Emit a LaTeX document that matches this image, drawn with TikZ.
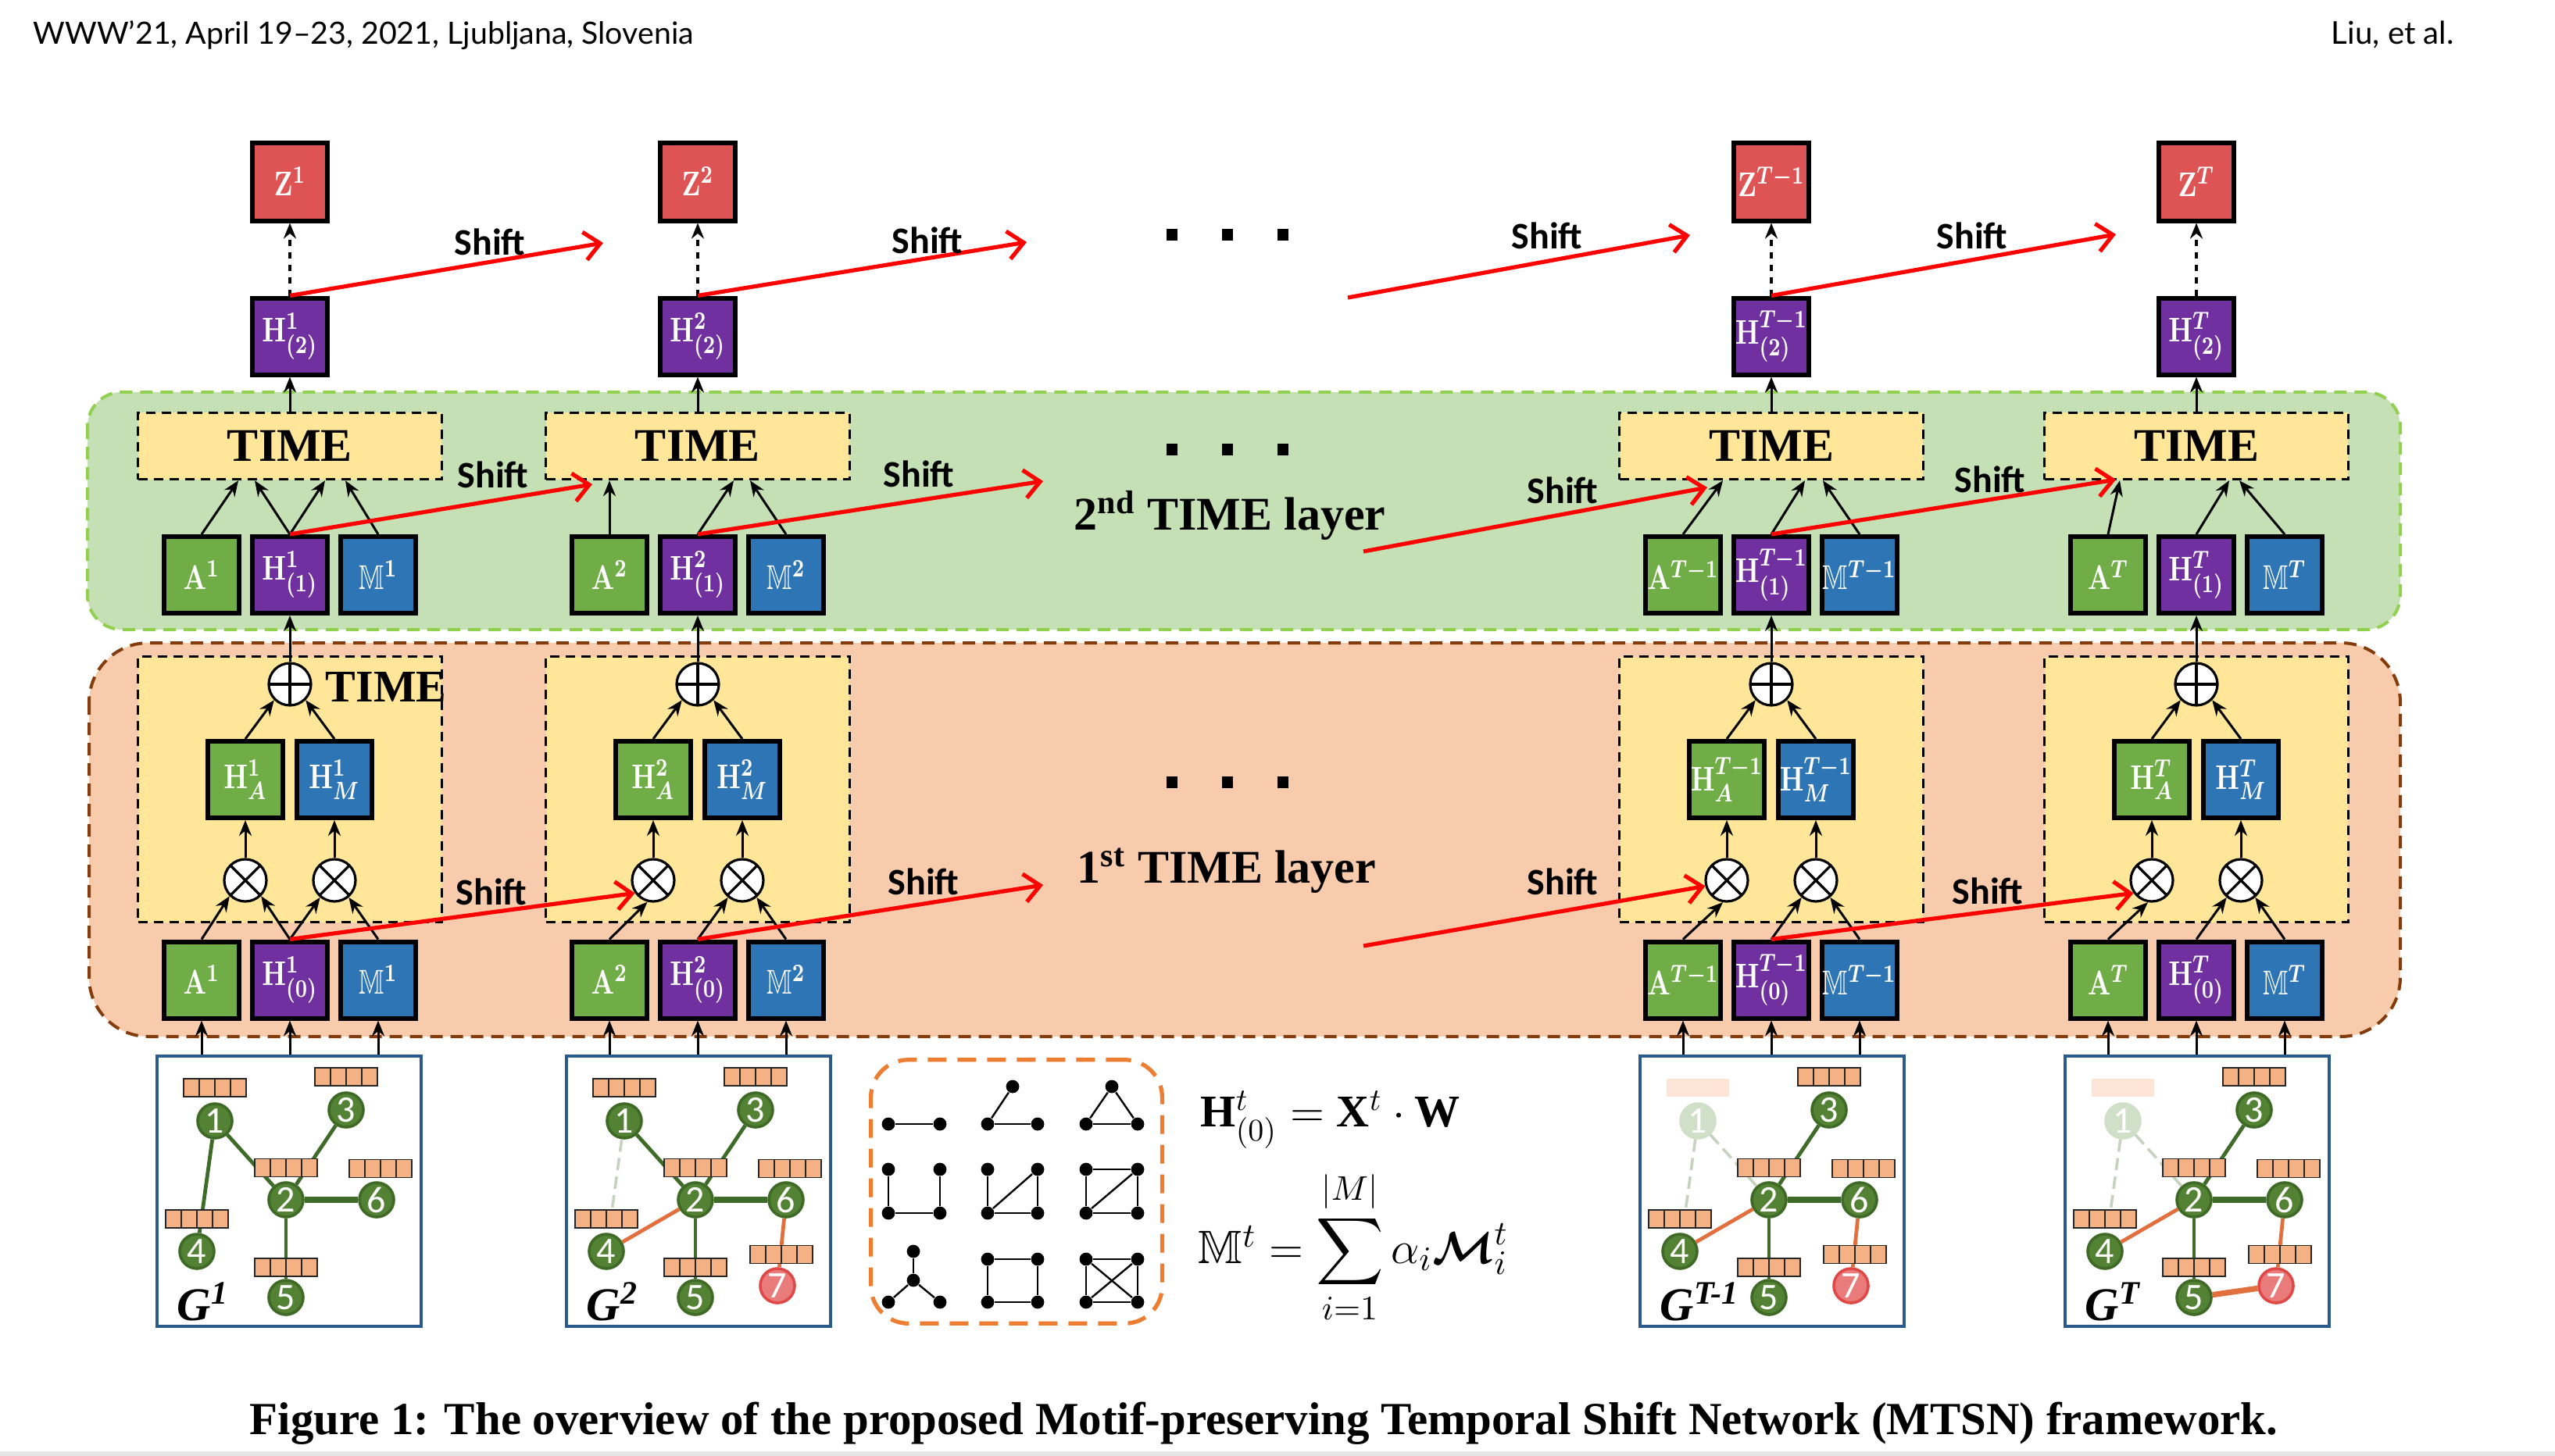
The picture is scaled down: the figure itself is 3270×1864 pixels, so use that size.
\documentclass[tikz,border=0pt]{standalone}
\usepackage{fontspec}
\usepackage{amsmath,amssymb,bm}
\setmainfont{Liberation Serif}
\newfontfamily\shiftfont{Carlito}
\newfontfamily\headfont{Lato}
\usetikzlibrary{arrows.meta,calc}

\definecolor{zred}{HTML}{DE5353}
\definecolor{hpurp}{HTML}{7030A0}
\definecolor{agreen}{HTML}{70AD47}
\definecolor{mblue}{HTML}{2E75B6}
\definecolor{tyellow}{HTML}{FFE699}
\definecolor{greg}{HTML}{C5E0B4}
\definecolor{gregb}{HTML}{92D050}
\definecolor{oreg}{HTML}{F8CBAD}
\definecolor{oregb}{HTML}{843C0C}
\definecolor{motifb}{HTML}{ED7D31}
\definecolor{gboxb}{HTML}{2B5A8C}
\definecolor{gnodef}{HTML}{548235}
\definecolor{gnoded}{HTML}{3E6A26}
\definecolor{gedge}{HTML}{3F6B28}
\definecolor{oedge}{HTML}{E2703F}
\definecolor{barf}{HTML}{F4B183}
\definecolor{redn}{HTML}{E97B7B}
\definecolor{rednb}{HTML}{E04848}
\definecolor{fadenode}{HTML}{D0DFC8}
\definecolor{fadebar}{HTML}{FCE4D6}
\definecolor{fadeedge}{HTML}{C8D2C0}

\newcommand\bl[1]{\scalebox{0.78}[1]{#1}}

\tikzset{
  blk/.style={draw=black, line width=1.5pt, minimum width=24pt, minimum height=24.5pt,
    inner sep=0pt, text=white, font=\fontsize{11}{12}\selectfont\boldmath},
  zbox/.style={blk, fill=zred, minimum height=25pt},
  hbox/.style={blk, fill=hpurp},
  abox/.style={blk, fill=agreen},
  mbox/.style={blk, fill=mblue},
  timebox/.style={draw=black, dash pattern=on 3pt off 2pt, line width=0.8pt, fill=tyellow,
    minimum width=97.2pt, minimum height=21.3pt, inner sep=0pt,
    font=\fontsize{15}{18}\selectfont\bfseries},
  ybox/.style={draw=black, dash pattern=on 3pt off 2pt, line width=0.8pt, fill=tyellow,
    minimum width=97.2pt, minimum height=85pt, inner sep=0pt},
  opc/.style={circle, draw=black, fill=white, line width=0.8pt, minimum size=13.5pt, inner sep=0pt},
  plusop/.style={opc, path picture={\draw[line width=0.8pt]
      (path picture bounding box.north) -- (path picture bounding box.south)
      (path picture bounding box.west) -- (path picture bounding box.east);}},
  timesop/.style={opc, path picture={\draw[line width=0.8pt]
      (path picture bounding box.north west) -- (path picture bounding box.south east)
      (path picture bounding box.north east) -- (path picture bounding box.south west);}},
  arr/.style={-{Stealth[length=5pt,width=4pt]}, line width=0.75pt},
  dotarr/.style={arr, line width=1.2pt, dash pattern=on 2pt off 2pt},
  shiftarr/.style={-{Straight Barb[length=5pt,width=9pt]}, line width=1.3pt, draw=red},
  shiftlbl/.style={font=\shiftfont\bfseries\fontsize{12}{14}\selectfont, inner sep=0pt},
  layerlbl/.style={font=\bfseries\fontsize{15}{18}\selectfont, inner sep=0pt},
  dotsq/.style={fill=black, minimum width=3.5pt, minimum height=3.75pt, inner sep=0pt},
  gbox/.style={draw=gboxb, line width=1pt, minimum width=84.5pt, minimum height=86.5pt, inner sep=0pt},
  gnode/.style={circle, fill=gnodef, draw=gnoded, line width=0.9pt, minimum size=11pt,
    inner sep=0pt, text=white, font=\shiftfont\fontsize{12}{12}\selectfont},
  fnode/.style={gnode, fill=fadenode, draw=fadenode},
  rnode/.style={gnode, fill=redn, draw=rednb},
  fbar/.style={rectangle, minimum width=20pt, minimum height=5.75pt, inner sep=0pt,
    fill=barf, draw=black!85, line width=0.4pt,
    path picture={\foreach \k in {0.25,0.5,0.75}
      \draw[black!85, line width=0.4pt]
      ($(path picture bounding box.south west)!\k!(path picture bounding box.south east)$) --
      ($(path picture bounding box.north west)!\k!(path picture bounding box.north east)$);}},
  fadebarst/.style={rectangle, minimum width=20pt, minimum height=5.75pt, inner sep=0pt, fill=fadebar},
  glabel/.style={anchor=base west, inner sep=0pt, font=\bfseries\itshape\fontsize{15}{16}\selectfont},
  ge/.style={draw=gedge, line width=1.2pt},
  gethick/.style={draw=gedge, line width=1.8pt},
  oe/.style={draw=oedge, line width=1.2pt},
  oethick/.style={draw=oedge, line width=1.8pt},
  fe/.style={draw=fadeedge, line width=0.9pt, dash pattern=on 4pt off 2pt},
  mdot/.style={circle, fill=black, minimum size=4.2pt, inner sep=0pt},
  medge/.style={line width=0.6pt, draw=black},
}

\newcommand\mgroup[3]{%
  \node[ybox] (y#1) at (#2,1010.5) {};
  \node[timebox] (t2#1) at (#2,571) {TIME};
  \node[zbox] (z#1) at (#2,232.5) {\bl{$\mathbf{Z}^{#3}$}};
  \node[hbox] (h2#1) at (#2,430.5) {\bl{$\mathbf{H}^{#3}_{(2)}$}};
  \node[abox] (a1#1) at (#2-113,736) {\bl{$\mathbf{A}^{#3}$}};
  \node[hbox] (h1#1) at (#2,736) {\bl{$\mathbf{H}^{#3}_{(1)}$}};
  \node[mbox] (m1#1) at (#2+113,736) {\bl{$\mathbb{M}^{#3}$}};
  \node[plusop] (op#1) at (#2,876) {};
  \node[abox] (ha#1) at (#2-57,998) {\bl{$\mathbf{H}^{#3}_{A}$}};
  \node[mbox] (hm#1) at (#2+57,998) {\bl{$\mathbf{H}^{#3}_{M}$}};
  \node[timesop] (xa#1) at (#2-57,1127) {};
  \node[timesop] (xm#1) at (#2+57,1127) {};
  \node[abox] (a0#1) at (#2-113,1254.5) {\bl{$\mathbf{A}^{#3}$}};
  \node[hbox] (h0#1) at (#2,1254.5) {\bl{$\mathbf{H}^{#3}_{(0)}$}};
  \node[mbox] (m0#1) at (#2+113,1254.5) {\bl{$\mathbb{M}^{#3}$}};
  \draw[dotarr] (h2#1) -- (z#1);
  \draw[arr] (t2#1) -- (h2#1);
  \draw[arr] (op#1) -- (h1#1);
  \draw[arr] (ha#1.north) -- (op#1.225);
  \draw[arr] (hm#1.north) -- (op#1.315);
  \draw[arr] (xa#1) -- (ha#1);
  \draw[arr] (xm#1) -- (hm#1);
  \draw[arr] (h0#1.north) -- (xm#1.230);
  \draw[arr] (m0#1.north) -- (xm#1.310);
}

\newcommand\ggraph[7]{%
  \begin{scope}[shift={(#2,0)}]
  \node[gbox] (box#1) at (370,1525) {};
  \node[#3] (#11) at (275,1435) {1};
  \node[gnode] (#12) at (366,1536) {2};
  \node[gnode] (#13) at (443,1421) {3};
  \node[gnode] (#14) at (252,1602) {4};
  \node[gnode] (#15) at (366,1661) {5};
  \node[gnode] (#16) at (482,1536) {6};
  \ifnum#5=1 \node[rnode] (#17) at (471,1646) {7};\fi
  #6
  \node[#4] (#1b1) at (275,1392.5) {};
  \node[fbar] (#1b2) at (366,1495) {};
  \node[fbar] (#1b3) at (443,1378.5) {};
  \node[fbar] (#1b4) at (252,1560.5) {};
  \node[fbar] (#1b5) at (366,1622.5) {};
  \node[fbar] (#1b6) at (487,1496) {};
  \ifnum#5=1 \node[fbar] (#1b7) at (476,1606) {};\fi
  \node[glabel] (#1lab) at (226,1690) {#7};
  \end{scope}}

\begin{document}
\begin{tikzpicture}[x=0.25pt,y=-0.25pt]
\useasboundingbox (0,0) rectangle (3270,1864);
\fill[white] (0,0) rectangle (3270,1864);
\fill[black!10] (0,1858) rectangle (3270,1864);

% regions
\draw[fill=greg, draw=gregb, line width=1pt, dash pattern=on 4pt off 2.5pt, rounded corners=11pt]
  (112,502) rectangle (3072,806);
\draw[fill=oreg, draw=oregb, line width=1pt, dash pattern=on 4pt off 2.5pt, rounded corners=19pt]
  (114,823) rectangle (3072,1327);

% groups
\mgroup{a}{371}{1}
\mgroup{b}{893}{2}
\mgroup{c}{2267}{T-1}
\mgroup{d}{2811}{T}

\node[anchor=base west, inner sep=0pt, font=\fontsize{14.5}{16}\selectfont\bfseries] (timelab) at (416,898) {TIME};

% group specific arrows
\draw[arr] (a1a.north) -- ($(t2a.south)+(-66,0)$);
\draw[arr] (h1a.north) -- ($(t2a.south)+(-45,0)$);
\draw[arr] (h1a.north) -- ($(t2a.south)+(45,0)$);
\draw[arr] (m1a.north) -- ($(t2a.south)+(71,0)$);
\draw[arr] (a0a.north) -- (xaa.225);
\draw[arr] (h0a.north) -- (xaa.315);

\draw[arr] (a1b.north) -- (a1b.north |- t2b.south);
\draw[arr] (h1b.north) -- ($(t2b.south)+(46,0)$);
\draw[arr] (m1b.north) -- ($(t2b.south)+(67,0)$);
\draw[arr] (a0b.north) -- (xab.255);

\draw[arr] (a1c.north) -- ($(t2c.south)+(-62,0)$);
\draw[arr] (h1c.north) -- ($(t2c.south)+(43,0)$);
\draw[arr] (m1c.north) -- ($(t2c.south)+(66,0)$);
\draw[arr] (a0c.north) -- (xac.260);

\draw[arr] (a1d.north) -- ($(t2d.south)+(-98,0)$);
\draw[arr] (h1d.north) -- ($(t2d.south)+(42,0)$);
\draw[arr] (m1d.north) -- ($(t2d.south)+(55,0)$);
\draw[arr] (a0d.north) -- (xad.260);

% graphs
\ggraph{pa}{0}{gnode}{fbar}{0}{%
  \draw[ge] (pa1) -- (pa2); \draw[ge] (pa1) -- (pa4); \draw[ge] (pa3) -- (pa2);
  \draw[gethick] (pa2) -- (pa6); \draw[ge] (pa2) -- (pa5);}{G\textsuperscript{1}}
\ggraph{pb}{524}{gnode}{fbar}{1}{%
  \draw[fe] (pb1) -- (pb4); \draw[ge] (pb1) -- (pb2); \draw[ge] (pb3) -- (pb2);
  \draw[gethick] (pb2) -- (pb6); \draw[ge] (pb2) -- (pb5);
  \draw[oe] (pb2) -- (pb4); \draw[oe] (pb6) -- (pb7);}{G\textsuperscript{2}}
\ggraph{pc}{1898}{fnode}{fadebarst}{1}{%
  \draw[fe] (pc1) -- (pc4); \draw[fe] (pc1) -- (pc2); \draw[ge] (pc3) -- (pc2);
  \draw[gethick] (pc2) -- (pc6); \draw[ge] (pc2) -- (pc5);
  \draw[oe] (pc2) -- (pc4); \draw[oe] (pc6) -- (pc7);}{G\textsuperscript{T-1}}
\ggraph{pd}{2442}{fnode}{fadebarst}{1}{%
  \draw[fe] (pd1) -- (pd4); \draw[fe] (pd1) -- (pd2); \draw[ge] (pd3) -- (pd2);
  \draw[gethick] (pd2) -- (pd6); \draw[ge] (pd2) -- (pd5);
  \draw[oe] (pd2) -- (pd4); \draw[oe] (pd6) -- (pd7); \draw[oethick] (pd5) -- (pd7);}{G\textsuperscript{T}}

% graph to layer-1 arrows
\foreach \g/\p in {a/pa,b/pb,c/pc,d/pd}{
  \draw[arr] (box\p.north -| a0\g) -- (a0\g);
  \draw[arr] (box\p.north -| h0\g) -- (h0\g);
  \draw[arr] (box\p.north -| m0\g) -- (m0\g);
}

% motif box
\node[draw=motifb, dash pattern=on 6pt off 3.5pt, line width=1.3pt, rounded corners=12pt,
  minimum width=93.2pt, minimum height=84.4pt, inner sep=0pt] (motifbox) at (1301,1525.5) {};
\foreach \n/\x/\y in {mo1a/1137/1439, mo1b/1203/1439,
  mo2a/1264/1439, mo2b/1328/1439, mo2c/1296/1391,
  mo3a/1390/1439, mo3b/1456/1439, mo3c/1423/1391,
  mo4a/1137/1497, mo4b/1203/1497, mo4c/1137/1553, mo4d/1203/1553,
  mo5a/1264/1497, mo5b/1328/1497, mo5c/1264/1553, mo5d/1328/1553,
  mo6a/1390/1497, mo6b/1456/1497, mo6c/1390/1553, mo6d/1456/1553,
  mo7a/1169/1602, mo7b/1169/1639, mo7c/1137/1667, mo7d/1203/1667,
  mo8a/1264/1612, mo8b/1328/1612, mo8c/1264/1667, mo8d/1328/1667,
  mo9a/1390/1612, mo9b/1456/1612, mo9c/1390/1667, mo9d/1456/1667}
  \node[mdot] (\n) at (\x,\y) {};
\foreach \u/\v in {mo1a/mo1b, mo2c/mo2a, mo2a/mo2b, mo3a/mo3b, mo3b/mo3c, mo3c/mo3a,
  mo4a/mo4c, mo4c/mo4d, mo4d/mo4b,
  mo5a/mo5c, mo5c/mo5d, mo5d/mo5b, mo5c/mo5b,
  mo6a/mo6b, mo6a/mo6c, mo6c/mo6d, mo6d/mo6b, mo6c/mo6b,
  mo7a/mo7b, mo7b/mo7c, mo7b/mo7d,
  mo8a/mo8b, mo8b/mo8d, mo8d/mo8c, mo8c/mo8a,
  mo9a/mo9b, mo9b/mo9d, mo9d/mo9c, mo9c/mo9a, mo9a/mo9d, mo9b/mo9c}
  \draw[medge] (\u) -- (\v);

% formulas
\node[anchor=base west, inner sep=0pt, font=\fontsize{14.5}{16}\selectfont] (eqH) at (1536,1442)
  {$\mathbf{H}^{t}_{(0)} = \mathbf{X}^{t}\cdot\mathbf{W}$};
\node[anchor=base west, inner sep=0pt, font=\fontsize{15}{16}\selectfont] (eqM) at (1533,1617)
  {$\mathbb{M}^{t} = \displaystyle\sum_{i=1}^{|M|}\alpha_i\boldsymbol{\mathcal{M}}_i^{t}$};

% ellipsis dots
\foreach \r/\yy in {1/300, 2/575, 3/1001}
  \foreach \c/\xx in {1/1500, 2/1571, 3/1642}
    \node[dotsq] (dot\r\c) at (\xx,\yy) {};

% layer labels
\node[layerlbl, anchor=base] (l2lab) at (1574,678) {2\textsuperscript{nd} TIME layer};
\node[layerlbl, anchor=base] (l1lab) at (1570,1130) {1\textsuperscript{st} TIME layer};

% shift arrows
\coordinate (se1) at (772,311);
\coordinate (se2) at (1314,310);
\coordinate (ss3) at (1725,381);
\coordinate (se3) at (2163,301);
\coordinate (se4) at (2708,300);
\coordinate (le1) at (758,620);
\coordinate (le2) at (1335,616);
\coordinate (ls3) at (1745,706);
\coordinate (le3) at (2185,624);
\coordinate (le4) at (2708,614);
\coordinate (ke2) at (1335,1133);
\coordinate (ks3) at (1745,1211);

\draw[shiftarr] (h2a.north) -- (se1);
\draw[shiftarr] (h2b.north) -- (se2);
\draw[shiftarr] (ss3) -- (se3);
\draw[shiftarr] (h2c.north) -- (se4);
\draw[shiftarr] (h1a.north) -- (le1);
\draw[shiftarr] (h1b.north) -- (le2);
\draw[shiftarr] (ls3) -- (le3);
\draw[shiftarr] (h1c.north) -- (le4);
\draw[shiftarr] (h0a.north) -- (xab.215);
\draw[shiftarr] (h0b.north) -- (ke2);
\draw[shiftarr] (ks3) -- (xac.195);
\draw[shiftarr] (h0c.north) -- (xad.215);

\foreach \n/\x/\y in {sa/627/310, sb/1187/308, sc/1980/302, sd/2524/302,
  sla/631/608, slb/1176/607, slc/2000/628, sld/2547/614,
  ska/629/1142, skb/1182/1129, skc/2000/1129, skd/2544/1141}
  \node[shiftlbl] (\n) at (\x,\y) {Shift};

% header and caption
\node[anchor=base west, inner sep=0pt] (head) at (42,56)
  {\resizebox{211.25pt}{!}{\headfont WWW’21, April 19–23, 2021, Ljubljana, Slovenia}};
\node[anchor=base west, inner sep=0pt] (auth) at (2983,56)
  {\resizebox{39.25pt}{!}{\headfont Liu, et al.}};
\node[anchor=base west, inner sep=0pt] (cap) at (319,1836)
  {\resizebox{648.75pt}{!}{\bfseries Figure 1: The overview of the proposed Motif-preserving Temporal Shift Network (MTSN) framework.}};
\end{tikzpicture}
\end{document}
